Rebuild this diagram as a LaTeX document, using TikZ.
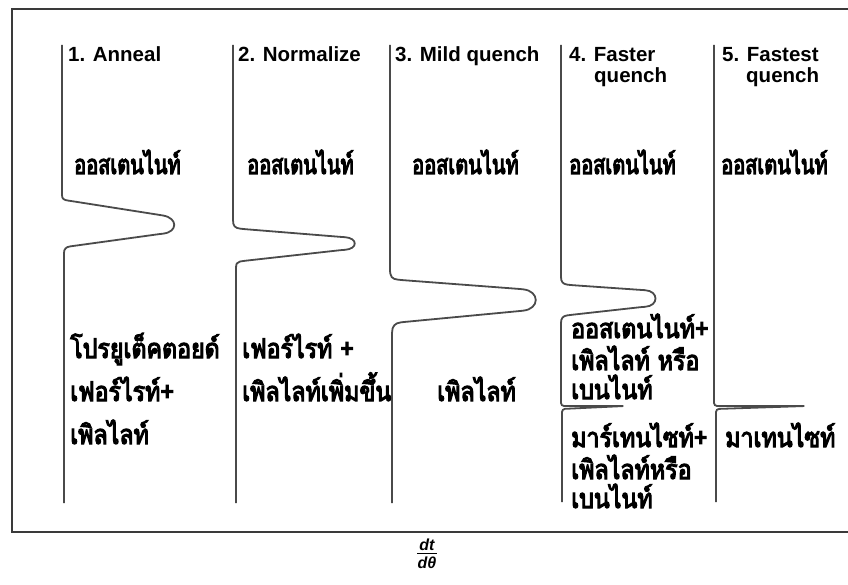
\documentclass[tikz,border=0pt]{standalone}
\usepackage{fontspec}
\setmainfont{Liberation Sans}
\newfontfamily\thaifont[Script=Thai,FakeStretch=0.86,FakeBold=4]{Loma}
\newfontfamily\thaicond[Script=Thai,FakeStretch=0.74,FakeBold=4]{Loma}
\newfontfamily\titlefont{Liberation Sans}
\definecolor{curvegray}{HTML}{4A4A4A}
\definecolor{framegray}{HTML}{3A3A3A}
\begin{document}
\begin{tikzpicture}[x=1pt,y=-1pt,
  curve/.style={draw=curvegray,line width=1.8pt,rounded corners=3pt},
  title/.style={anchor=base west,inner sep=0pt,font=\titlefont\bfseries\fontsize{20.5}{22}\selectfont},
  thai/.style={anchor=base west,inner sep=0pt,font=\thaifont\fontsize{27}{30}\selectfont},
  thaitop/.style={anchor=base west,inner sep=0pt,font=\thaicond\fontsize{27}{30}\selectfont},
  frac/.style={inner sep=0pt,font=\titlefont\bfseries\itshape\fontsize{16}{18}\selectfont}]
\useasboundingbox[fill=white] (0,0) rectangle (848,585);
% frame (open on the right)
\draw[framegray,line width=1.6pt] (848,9) -- (12,9) -- (12,532) -- (848,532);
% curves
\draw[curve] (62,45) -- (62,192) .. controls (62,199) and (64,200) .. (71,201)
  -- (160,215) .. controls (178,218) and (178,232) .. (160,234)
  -- (73,246) .. controls (66,247) and (64,249) .. (64,256) -- (64,503);
\draw[curve] (233,45) -- (233,217) .. controls (233,226) and (235,228) .. (243,229)
  -- (342,237) .. controls (358,238) and (358,249) .. (342,250)
  -- (243,261) .. controls (237,262) and (236,264) .. (236,271) -- (236,503);
\draw[curve] (390,45) -- (390,266) .. controls (390,277) and (392,279) .. (401,280)
  -- (520,289) .. controls (540,291) and (540,309) .. (520,311)
  -- (404,322) .. controls (395,323) and (392,326) .. (392,336) -- (392,503);
\draw[curve] (561,45) -- (561,274) .. controls (561,282) and (563,284) .. (570,285)
  -- (642,290) .. controls (659,291) and (659,306) .. (642,307)
  -- (570,315) .. controls (563,316) and (561,318) .. (561,326)
  -- (561,406) -- (625,406) -- (562,409) -- (562,502);
\draw[curve] (714,45) -- (714,406) -- (806,406) -- (716,409) -- (716,502);
% titles
\node[title] (t1) at (68,62) {1. Anneal};
\node[title] (t2) at (238,62) {2. Normalize};
\node[title] (t3) at (395,62) {3. Mild quench};
\node[title] (t4a) at (569,62) {4. Faster};
\node[title] (t4b) at (594,83) {quench};
\node[title] (t5a) at (722,62) {5. Fastest};
\node[title] (t5b) at (746,83) {quench};
% austenite row
\node[thaitop] (a1) at (74,174) {ออสเตนไนท์};
\node[thaitop] (a2) at (247,174) {ออสเตนไนท์};
\node[thaitop] (a3) at (412,174) {ออสเตนไนท์};
\node[thaitop] (a4) at (569,174) {ออสเตนไนท์};
\node[thaitop] (a5) at (721,174) {ออสเตนไนท์};
% column 1
\node[thai] (c1a) at (70,358) {โปรยูเต็คตอยด์};
\node[thai] (c1b) at (70,401) {เฟอร์ไรท์+};
\node[thai] (c1c) at (70,444) {เพิลไลท์};
% column 2
\node[thai] (c2a) at (242,358) {เฟอร์ไรท์ +};
\node[thai] (c2b) at (242,401) {เพิลไลท์เพิ่มขึ้น};
% column 3
\node[thai] (c3a) at (437,401) {เพิลไลท์};
% column 4
\node[thai] (c4a) at (571,338) {ออสเตนไนท์+};
\node[thai] (c4b) at (571,370) {เพิลไลท์ หรือ};
\node[thai] (c4c) at (571,399) {เบนไนท์};
\node[thai] (c4d) at (571,447) {มาร์เทนไซท์+};
\node[thai] (c4e) at (571,479) {เพิลไลท์หรือ};
\node[thai] (c4f) at (571,508) {เบนไนท์};
% column 5
\node[thai] (c5a) at (725,447) {มาเทนไซท์};
% dt/dtheta
\node[frac] (num) at (427,545) {dt};
\node[frac] (den) at (427,563) {dθ};
\draw[line width=1.1pt] (417,553.5) -- (437,553.5);
\end{tikzpicture}
\end{document}
